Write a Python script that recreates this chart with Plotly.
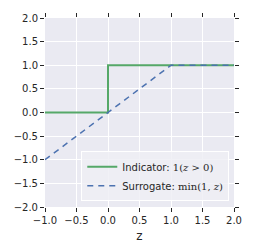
import plotly.graph_objects as go

ind_x = [-1.0, 0.0, 0.0, 2.0]
ind_y = [0.0, 0.0, 1.0, 1.0]
sur_x = [-1.0, 1.0, 2.0]
sur_y = [-1.0, 1.0, 1.0]
x_ticks = [-1.0, -0.5, 0.0, 0.5, 1.0, 1.5, 2.0]
y_ticks = [-2.0, -1.5, -1.0, -0.5, 0.0, 0.5, 1.0, 1.5, 2.0]

fig = go.Figure()
fig.add_trace(go.Scatter(
    x=ind_x, y=ind_y, mode="lines",
    line=dict(color="#55a868", width=2),
    name="Indicator: <span style='font-family:DejaVu Serif'>1(<i>z</i> > 0)</span>",
))
fig.add_trace(go.Scatter(
    x=sur_x, y=sur_y, mode="lines",
    line=dict(color="#4c72b0", width=1.5, dash="6px,5px"),
    name="Surrogate: <span style='font-family:DejaVu Serif'>min(1, <i>z</i>)</span>",
))

axis_common = dict(
    showgrid=True, gridcolor="white", gridwidth=1,
    zeroline=False, showline=False,
    ticks="outside", ticklen=4, tickwidth=1, tickcolor="#262626",
    mirror="ticks",
    tickfont=dict(family="DejaVu Sans", size=10, color="#262626"),
)

fig.update_layout(
    width=254, height=252,
    margin=dict(l=45, r=15, t=12, b=45),
    paper_bgcolor="white", plot_bgcolor="#EAEAF2",
    showlegend=True,
    legend=dict(
        x=0.975, y=0.03, xanchor="right", yanchor="bottom",
        bgcolor="rgba(238,238,244,0.85)", bordercolor="white", borderwidth=1,
        font=dict(family="DejaVu Sans", size=10, color="#262626"),
    ),
    xaxis=dict(
        range=[-1.0, 2.0], tickvals=x_ticks,
        ticktext=[f"{v:.1f}".replace("-", "\u2212") for v in x_ticks],
        title=dict(text="z", font=dict(family="DejaVu Sans", size=12, color="#262626"), standoff=6),
        **axis_common,
    ),
    yaxis=dict(
        range=[-2.0, 2.0], tickvals=y_ticks,
        ticktext=[f"{v:.1f}".replace("-", "\u2212") for v in y_ticks],
        **axis_common,
    ),
)

fig.write_html("out.html", config={"displayModeBar": False},
               post_script="document.body.style.margin='0px';")
